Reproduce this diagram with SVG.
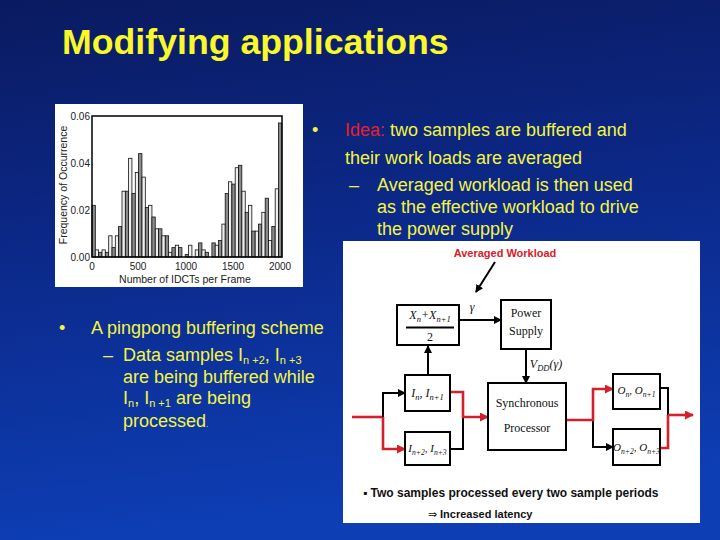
<svg xmlns="http://www.w3.org/2000/svg" width="720" height="540" viewBox="0 0 720 540">
<defs>
<linearGradient id="bg" x1="0" y1="0" x2="0.15" y2="1">
<stop offset="0" stop-color="#0a1a60"/>
<stop offset="0.5" stop-color="#0c2a8c"/>
<stop offset="1" stop-color="#0d3eb4"/>
</linearGradient>
<marker id="ab" markerWidth="8" markerHeight="8" refX="7" refY="4" orient="auto" markerUnits="userSpaceOnUse"><path d="M0,0 L8,4 L0,8 z" fill="#000"/></marker>
<marker id="ar" markerWidth="9" markerHeight="9" refX="8" refY="4.5" orient="auto" markerUnits="userSpaceOnUse"><path d="M0,0 L9,4.5 L0,9 z" fill="#d4202a"/></marker>
<style>
.title{font-family:"Liberation Sans",Arial,sans-serif;font-weight:bold;font-size:35.7px;fill:#f8f82a}
.body{font-family:"Liberation Sans",Arial,sans-serif;font-size:18px;fill:#f4f444}
.sub{font-size:11px}
.tick{font-family:"Liberation Sans",Arial,sans-serif;font-size:10px;fill:#222}
.axl{font-family:"Liberation Sans",Arial,sans-serif;font-size:10.5px;fill:#222}
.bar{stroke:#111;stroke-width:0.8}
.g1{fill:#8a8a8a}
.g2{fill:#eeeeee}
.box{fill:#fff;stroke:#000;stroke-width:2}
.bt{font-family:"Liberation Serif","Times New Roman",serif;font-size:12px;fill:#111;text-anchor:middle}
.mt{font-family:"Liberation Serif","Times New Roman",serif;font-style:italic;font-size:12px;fill:#111;text-anchor:middle}
.ms{font-size:8.5px}
.sm{font-size:11px}
.sm .ms{font-size:7.6px}
.kb{fill:none;stroke:#000;stroke-width:2}
.kr{fill:none;stroke:#d4202a;stroke-width:2.6}
.note{font-family:"Liberation Sans",Arial,sans-serif;font-weight:bold;fill:#111}
</style>
</defs>
<rect x="0" y="0" width="720" height="540" fill="url(#bg)"/>

<text class="title" x="62" y="54">Modifying applications</text>

<g id="histogram">
<rect x="55" y="104" width="248" height="183" fill="#fff"/>
<g>
<rect class="bar g1" x="92.0" y="205.3" width="3.33" height="51.7"/>
<rect class="bar g2" x="95.3" y="249.9" width="3.33" height="7.1"/>
<rect class="bar g1" x="98.7" y="252.3" width="3.33" height="4.7"/>
<rect class="bar g2" x="102.0" y="249.9" width="3.33" height="7.1"/>
<rect class="bar g1" x="105.3" y="252.3" width="3.33" height="4.7"/>
<rect class="bar g2" x="108.7" y="235.8" width="3.33" height="21.2"/>
<rect class="bar g1" x="112.0" y="247.6" width="3.33" height="9.4"/>
<rect class="bar g2" x="115.3" y="235.8" width="3.33" height="21.2"/>
<rect class="bar g1" x="118.6" y="226.4" width="3.33" height="30.6"/>
<rect class="bar g2" x="122.0" y="191.2" width="3.33" height="65.8"/>
<rect class="bar g1" x="125.3" y="191.2" width="3.33" height="65.8"/>
<rect class="bar g2" x="128.6" y="158.3" width="3.33" height="98.7"/>
<rect class="bar g1" x="132.0" y="193.5" width="3.33" height="63.5"/>
<rect class="bar g2" x="135.3" y="172.4" width="3.33" height="84.6"/>
<rect class="bar g1" x="138.6" y="153.6" width="3.33" height="103.4"/>
<rect class="bar g2" x="142.0" y="177.1" width="3.33" height="79.9"/>
<rect class="bar g1" x="145.3" y="207.6" width="3.33" height="49.4"/>
<rect class="bar g2" x="148.6" y="205.3" width="3.33" height="51.7"/>
<rect class="bar g1" x="151.9" y="217.0" width="3.33" height="40.0"/>
<rect class="bar g2" x="155.3" y="228.8" width="3.33" height="28.2"/>
<rect class="bar g1" x="158.6" y="228.8" width="3.33" height="28.2"/>
<rect class="bar g2" x="161.9" y="235.8" width="3.33" height="21.2"/>
<rect class="bar g1" x="165.3" y="235.8" width="3.33" height="21.2"/>
<rect class="bar g2" x="168.6" y="252.3" width="3.33" height="4.7"/>
<rect class="bar g1" x="171.9" y="247.6" width="3.33" height="9.4"/>
<rect class="bar g2" x="175.3" y="245.2" width="3.33" height="11.8"/>
<rect class="bar g1" x="178.6" y="247.6" width="3.33" height="9.4"/>
<rect class="bar g1" x="185.2" y="254.6" width="3.33" height="2.4"/>
<rect class="bar g2" x="188.6" y="245.2" width="3.33" height="11.8"/>
<rect class="bar g2" x="195.2" y="249.9" width="3.33" height="7.1"/>
<rect class="bar g1" x="198.6" y="242.9" width="3.33" height="14.1"/>
<rect class="bar g2" x="201.9" y="249.9" width="3.33" height="7.1"/>
<rect class="bar g1" x="205.2" y="252.3" width="3.33" height="4.7"/>
<rect class="bar g1" x="211.9" y="242.9" width="3.33" height="14.1"/>
<rect class="bar g2" x="215.2" y="245.2" width="3.33" height="11.8"/>
<rect class="bar g1" x="218.5" y="240.5" width="3.33" height="16.5"/>
<rect class="bar g2" x="221.9" y="224.1" width="3.33" height="32.9"/>
<rect class="bar g1" x="225.2" y="193.5" width="3.33" height="63.5"/>
<rect class="bar g2" x="228.5" y="181.8" width="3.33" height="75.2"/>
<rect class="bar g1" x="231.9" y="184.1" width="3.33" height="72.9"/>
<rect class="bar g2" x="235.2" y="167.7" width="3.33" height="89.3"/>
<rect class="bar g1" x="238.5" y="165.3" width="3.33" height="91.7"/>
<rect class="bar g2" x="241.9" y="191.2" width="3.33" height="65.8"/>
<rect class="bar g1" x="245.2" y="212.3" width="3.33" height="44.7"/>
<rect class="bar g2" x="248.5" y="205.3" width="3.33" height="51.7"/>
<rect class="bar g1" x="251.8" y="231.1" width="3.33" height="25.9"/>
<rect class="bar g2" x="255.2" y="231.1" width="3.33" height="25.9"/>
<rect class="bar g1" x="258.5" y="224.1" width="3.33" height="32.9"/>
<rect class="bar g2" x="261.8" y="212.3" width="3.33" height="44.7"/>
<rect class="bar g1" x="265.2" y="198.2" width="3.33" height="58.8"/>
<rect class="bar g2" x="268.5" y="240.5" width="3.33" height="16.5"/>
<rect class="bar g1" x="271.8" y="226.4" width="3.33" height="30.6"/>
<rect class="bar g2" x="275.2" y="188.8" width="3.33" height="68.2"/>
<rect class="bar g1" x="278.5" y="123.0" width="3.33" height="134.0"/>
</g>
<rect x="92" y="116" width="190" height="141" fill="none" stroke="#000" stroke-width="1.5"/>
<text class="tick" x="90" y="120" text-anchor="end">0.06</text>
<text class="tick" x="90" y="167" text-anchor="end">0.04</text>
<text class="tick" x="90" y="214" text-anchor="end">0.02</text>
<text class="tick" x="90" y="261" text-anchor="end">0.00</text>
<text class="tick" x="92" y="270" text-anchor="middle">0</text>
<text class="tick" x="138" y="270" text-anchor="middle">500</text>
<text class="tick" x="186" y="270" text-anchor="middle">1000</text>
<text class="tick" x="233" y="270" text-anchor="middle">1500</text>
<text class="tick" x="280" y="270" text-anchor="middle">2000</text>
<text class="axl" x="185" y="283" text-anchor="middle">Number of IDCTs per Frame</text>
<text class="axl" transform="translate(67,185) rotate(-90)" text-anchor="middle">Frequency of Occurrence</text>
</g>

<g id="text-right">
<text class="body" x="312" y="136">•</text>
<text class="body" x="345" y="136"><tspan fill="#e0222e">Idea:</tspan> two samples are buffered and</text>
<text class="body" x="345" y="164">their work loads are averaged</text>
<text class="body" x="349" y="191">–</text>
<text class="body" x="377" y="191">Averaged workload is then used</text>
<text class="body" x="377" y="213">as the effective workload to drive</text>
<text class="body" x="377" y="235">the power supply</text>
</g>

<g id="text-left">
<text class="body" x="59" y="334">•</text>
<text class="body" x="91" y="334">A pingpong buffering scheme</text>
<text class="body" x="103" y="361">–</text>
<text class="body" x="123" y="361">Data samples I<tspan class="sub" dy="3">n +2</tspan><tspan dy="-3">, I</tspan><tspan class="sub" dy="3">n +3</tspan></text>
<text class="body" x="123" y="383">are being buffered while</text>
<text class="body" x="123" y="404">I<tspan class="sub" dy="3">n</tspan><tspan dy="-3">, I</tspan><tspan class="sub" dy="3">n +1</tspan><tspan dy="-3"> are being</tspan></text>
<text class="body" x="123" y="427">processed<tspan font-size="8">.</tspan></text>
</g>

<g id="panel">
<rect x="343" y="241" width="357" height="282" fill="#fff"/>
<text class="note" x="505" y="257" font-size="11" text-anchor="middle" style="fill:#d4202a">Averaged Workload</text>
<text class="note" x="363" y="497" font-size="12">▪ Two samples processed every two sample periods</text>
<text class="note" x="428" y="518" font-size="11"><tspan font-weight="normal">⇒</tspan> Increased latency</text>
</g>

<g id="connectors">
<line class="kb" x1="495" y1="262" x2="476" y2="292" marker-end="url(#ab)" stroke-width="1.8"/>
<line class="kb" x1="459" y1="320" x2="501" y2="320" marker-end="url(#ab)"/>
<line class="kb" x1="526" y1="349" x2="526" y2="383" marker-end="url(#ab)"/>
<line class="kb" x1="428" y1="375" x2="428" y2="346" marker-end="url(#ab)"/>
<path class="kr" d="M352,417 H383"/>
<path class="kb" d="M383,417 V393 H405" marker-end="url(#ab)"/>
<path class="kr" d="M383,417 V449 H405" marker-end="url(#ar)"/>
<path class="kb" d="M450,449 H463 V417"/>
<path class="kr" d="M450,392 H463 V417 H488" marker-end="url(#ar)"/>
<path class="kb" d="M593,420 V447 H613" marker-end="url(#ab)"/>
<path class="kr" d="M566,420 H593 V389 H613" marker-end="url(#ar)"/>
<path class="kb" d="M660,388 H668 V415"/>
<path class="kr" d="M660,448 H668 V415"/>
<path class="kr" d="M668,415 H693" marker-end="url(#ar)"/>
<text class="mt" x="472" y="311">γ</text>
<text class="mt" x="546" y="368">V<tspan class="ms" dy="3">DD</tspan><tspan dy="-3">(γ)</tspan></text>
</g>

<g id="avg">
<rect class="box" x="397" y="305" width="62" height="40"/>
<text class="mt" x="430" y="319">X<tspan class="ms" dy="3">n</tspan><tspan dy="-3">+X</tspan><tspan class="ms" dy="3">n+1</tspan></text>
<line x1="406" y1="327.5" x2="454" y2="327.5" stroke="#000" stroke-width="2"/>
<text class="bt" x="430" y="341">2</text>
</g>

<g id="power">
<rect class="box" x="501" y="300" width="50" height="49"/>
<text class="bt" x="526" y="317">Power</text>
<text class="bt" x="526" y="335">Supply</text>
</g>

<g id="sync">
<rect class="box" x="488" y="383" width="78" height="67"/>
<text class="bt" x="527" y="407">Synchronous</text>
<text class="bt" x="527" y="432">Processor</text>
</g>

<g id="inbuf1">
<rect class="box" x="405" y="375" width="45" height="36"/>
<text class="mt" x="427.5" y="397">I<tspan class="ms" dy="3">n</tspan><tspan dy="-3">, I</tspan><tspan class="ms" dy="3">n+1</tspan></text>
</g>

<g id="inbuf2">
<rect class="box" x="405" y="432" width="45" height="33"/>
<text class="mt sm" x="427.5" y="452">I<tspan class="ms" dy="3">n+2</tspan><tspan dy="-3">, I</tspan><tspan class="ms" dy="3">n+3</tspan></text>
</g>

<g id="outbuf1">
<rect class="box" x="613" y="374" width="47" height="35"/>
<text class="mt sm" x="636.5" y="394">O<tspan class="ms" dy="3">n</tspan><tspan dy="-3">, O</tspan><tspan class="ms" dy="3">n+1</tspan></text>
</g>

<g id="outbuf2">
<rect class="box" x="613" y="429" width="47" height="36"/>
<text class="mt sm" x="636.5" y="451">O<tspan class="ms" dy="3">n+2</tspan><tspan dy="-3">, O</tspan><tspan class="ms" dy="3">n+3</tspan></text>
</g>
</svg>
